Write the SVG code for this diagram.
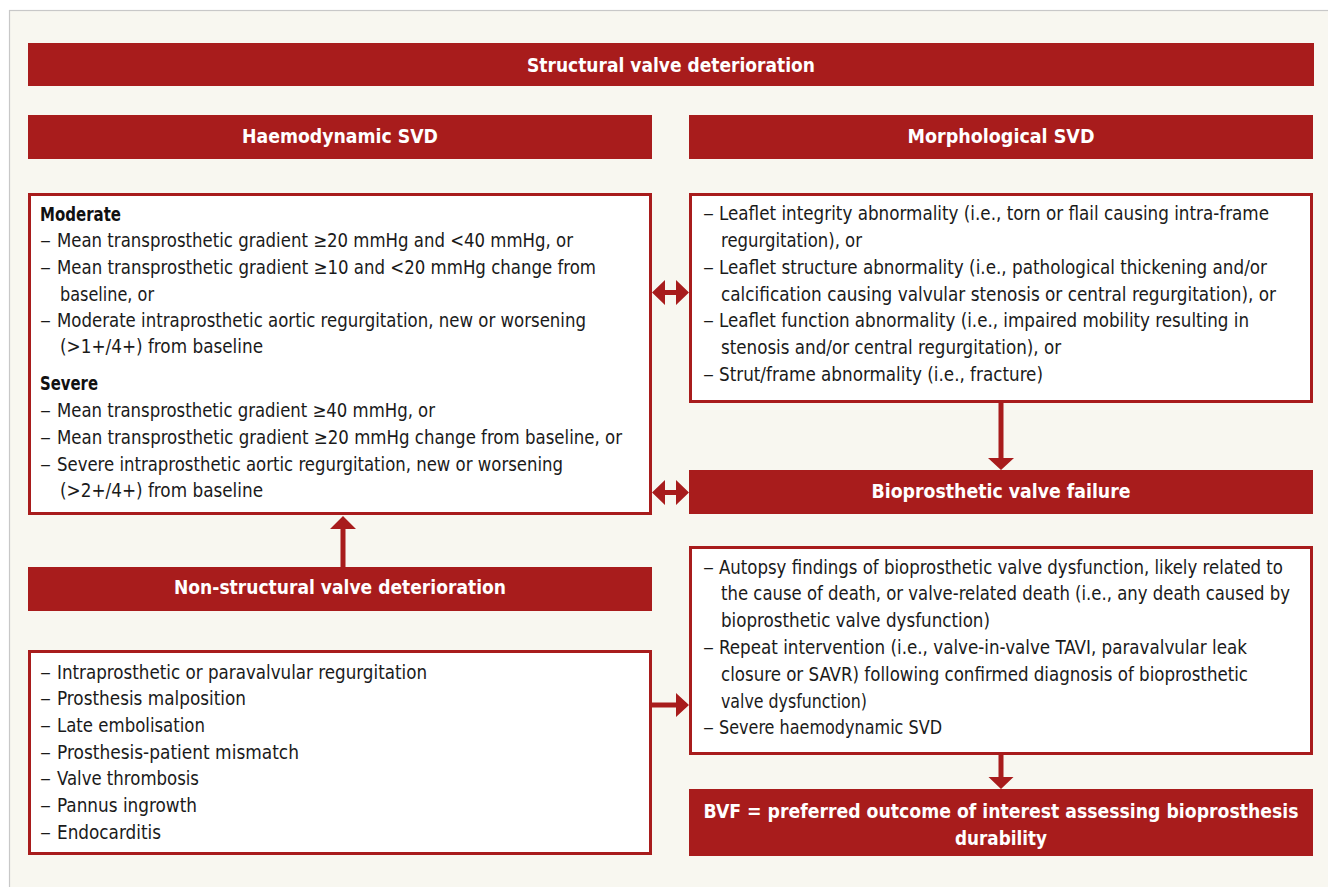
<svg xmlns="http://www.w3.org/2000/svg" width="1328" height="887" viewBox="0 0 1328 887">
<defs>
<style>
.bg{fill:#F8F7F0;stroke:#C8C8C8;stroke-width:1.2}
.ban{fill:#A81C1C}
.box{fill:#FFFFFF;stroke:#A81C1C;stroke-width:3}
.bt{font-family:"Liberation Sans Narrow","DejaVu Sans Condensed","Liberation Sans",sans-serif;font-size:20px;font-weight:bold;fill:#FFFFFF;text-anchor:middle}
.t{font-family:"Liberation Sans Narrow","DejaVu Sans Condensed","Liberation Sans",sans-serif;font-size:19px;fill:#1A1A1A}
.h{font-family:"Liberation Sans Narrow","DejaVu Sans Condensed","Liberation Sans",sans-serif;font-size:19px;font-weight:bold;fill:#111111}
.arr{fill:#A81C1C}
</style>
</defs>
<rect x="0" y="0" width="1328" height="887" fill="#FFFFFF"/>
<rect class="bg" x="9.5" y="10.5" width="1330" height="890"/>

<g id="svd-banner">
<rect class="ban" x="28" y="43" width="1286" height="43"/>
<text class="bt" x="671" y="72" textLength="288" lengthAdjust="spacingAndGlyphs">Structural valve deterioration</text>
</g>

<g id="haemo-banner">
<rect class="ban" x="28" y="115" width="624" height="44"/>
<text class="bt" x="340" y="143" textLength="196" lengthAdjust="spacingAndGlyphs">Haemodynamic SVD</text>
</g>

<g id="morph-banner">
<rect class="ban" x="689" y="115" width="624" height="44"/>
<text class="bt" x="1001" y="143" textLength="187" lengthAdjust="spacingAndGlyphs">Morphological SVD</text>
</g>

<g id="haemo-box">
<rect class="box" x="29.5" y="194.5" width="621" height="319"/>
<text class="h" x="40" y="221" textLength="81" lengthAdjust="spacingAndGlyphs">Moderate</text>
<text class="t" x="40" y="247" textLength="11" lengthAdjust="spacingAndGlyphs">–</text>
<text class="t" x="57" y="247" textLength="516" lengthAdjust="spacingAndGlyphs">Mean transprosthetic gradient ≥20 mmHg and &lt;40 mmHg, or</text>
<text class="t" x="40" y="274" textLength="11" lengthAdjust="spacingAndGlyphs">–</text>
<text class="t" x="57" y="274" textLength="539" lengthAdjust="spacingAndGlyphs">Mean transprosthetic gradient ≥10 and &lt;20 mmHg change from</text>
<text class="t" x="60" y="301" textLength="94" lengthAdjust="spacingAndGlyphs">baseline, or</text>
<text class="t" x="40" y="327" textLength="11" lengthAdjust="spacingAndGlyphs">–</text>
<text class="t" x="57" y="327" textLength="529" lengthAdjust="spacingAndGlyphs">Moderate intraprosthetic aortic regurgitation, new or worsening</text>
<text class="t" x="60" y="353" textLength="203" lengthAdjust="spacingAndGlyphs">(&gt;1+/4+) from baseline</text>
<text class="h" x="40" y="390" textLength="58" lengthAdjust="spacingAndGlyphs">Severe</text>
<text class="t" x="40" y="417" textLength="11" lengthAdjust="spacingAndGlyphs">–</text>
<text class="t" x="57" y="417" textLength="378" lengthAdjust="spacingAndGlyphs">Mean transprosthetic gradient ≥40 mmHg, or</text>
<text class="t" x="40" y="444" textLength="11" lengthAdjust="spacingAndGlyphs">–</text>
<text class="t" x="57" y="444" textLength="565" lengthAdjust="spacingAndGlyphs">Mean transprosthetic gradient ≥20 mmHg change from baseline, or</text>
<text class="t" x="40" y="471" textLength="11" lengthAdjust="spacingAndGlyphs">–</text>
<text class="t" x="57" y="471" textLength="506" lengthAdjust="spacingAndGlyphs">Severe intraprosthetic aortic regurgitation, new or worsening</text>
<text class="t" x="60" y="497" textLength="203" lengthAdjust="spacingAndGlyphs">(&gt;2+/4+) from baseline</text>
</g>

<g id="morph-box">
<rect class="box" x="690.5" y="194.5" width="621" height="207"/>
<text class="t" x="703" y="220" textLength="11" lengthAdjust="spacingAndGlyphs">–</text>
<text class="t" x="719" y="220" textLength="550" lengthAdjust="spacingAndGlyphs">Leaflet integrity abnormality (i.e., torn or flail causing intra-frame</text>
<text class="t" x="721" y="247" textLength="141" lengthAdjust="spacingAndGlyphs">regurgitation), or</text>
<text class="t" x="703" y="274" textLength="11" lengthAdjust="spacingAndGlyphs">–</text>
<text class="t" x="719" y="274" textLength="548" lengthAdjust="spacingAndGlyphs">Leaflet structure abnormality (i.e., pathological thickening and/or</text>
<text class="t" x="721" y="301" textLength="555" lengthAdjust="spacingAndGlyphs">calcification causing valvular stenosis or central regurgitation), or</text>
<text class="t" x="703" y="327" textLength="11" lengthAdjust="spacingAndGlyphs">–</text>
<text class="t" x="719" y="327" textLength="530" lengthAdjust="spacingAndGlyphs">Leaflet function abnormality (i.e., impaired mobility resulting in</text>
<text class="t" x="721" y="354" textLength="340" lengthAdjust="spacingAndGlyphs">stenosis and/or central regurgitation), or</text>
<text class="t" x="703" y="381" textLength="11" lengthAdjust="spacingAndGlyphs">–</text>
<text class="t" x="719" y="381" textLength="324" lengthAdjust="spacingAndGlyphs">Strut/frame abnormality (i.e., fracture)</text>
</g>

<g id="bvf-banner">
<rect class="ban" x="689" y="470" width="624" height="44"/>
<text class="bt" x="1001" y="498" textLength="259" lengthAdjust="spacingAndGlyphs">Bioprosthetic valve failure</text>
</g>

<g id="nsvd-banner">
<rect class="ban" x="28" y="567" width="624" height="44"/>
<text class="bt" x="340" y="594" textLength="332" lengthAdjust="spacingAndGlyphs">Non-structural valve deterioration</text>
</g>

<g id="bvf-box">
<rect class="box" x="690.5" y="547.5" width="621" height="206"/>
<text class="t" x="703" y="574" textLength="11" lengthAdjust="spacingAndGlyphs">–</text>
<text class="t" x="719" y="574" textLength="564" lengthAdjust="spacingAndGlyphs">Autopsy findings of bioprosthetic valve dysfunction, likely related to</text>
<text class="t" x="721" y="600" textLength="569" lengthAdjust="spacingAndGlyphs">the cause of death, or valve-related death (i.e., any death caused by</text>
<text class="t" x="721" y="627" textLength="269" lengthAdjust="spacingAndGlyphs">bioprosthetic valve dysfunction)</text>
<text class="t" x="703" y="654" textLength="11" lengthAdjust="spacingAndGlyphs">–</text>
<text class="t" x="719" y="654" textLength="528" lengthAdjust="spacingAndGlyphs">Repeat intervention (i.e., valve-in-valve TAVI, paravalvular leak</text>
<text class="t" x="721" y="681" textLength="527" lengthAdjust="spacingAndGlyphs">closure or SAVR) following confirmed diagnosis of bioprosthetic</text>
<text class="t" x="721" y="708" textLength="146" lengthAdjust="spacingAndGlyphs">valve dysfunction)</text>
<text class="t" x="703" y="734" textLength="11" lengthAdjust="spacingAndGlyphs">–</text>
<text class="t" x="719" y="734" textLength="223" lengthAdjust="spacingAndGlyphs">Severe haemodynamic SVD</text>
</g>

<g id="nsvd-box">
<rect class="box" x="29.5" y="651.5" width="621" height="202"/>
<text class="t" x="40" y="679" textLength="11" lengthAdjust="spacingAndGlyphs">–</text>
<text class="t" x="57" y="679" textLength="370" lengthAdjust="spacingAndGlyphs">Intraprosthetic or paravalvular regurgitation</text>
<text class="t" x="40" y="705" textLength="11" lengthAdjust="spacingAndGlyphs">–</text>
<text class="t" x="57" y="705" textLength="189" lengthAdjust="spacingAndGlyphs">Prosthesis malposition</text>
<text class="t" x="40" y="732" textLength="11" lengthAdjust="spacingAndGlyphs">–</text>
<text class="t" x="57" y="732" textLength="148" lengthAdjust="spacingAndGlyphs">Late embolisation</text>
<text class="t" x="40" y="759" textLength="11" lengthAdjust="spacingAndGlyphs">–</text>
<text class="t" x="57" y="759" textLength="242" lengthAdjust="spacingAndGlyphs">Prosthesis-patient mismatch</text>
<text class="t" x="40" y="785" textLength="11" lengthAdjust="spacingAndGlyphs">–</text>
<text class="t" x="57" y="785" textLength="142" lengthAdjust="spacingAndGlyphs">Valve thrombosis</text>
<text class="t" x="40" y="812" textLength="11" lengthAdjust="spacingAndGlyphs">–</text>
<text class="t" x="57" y="812" textLength="140" lengthAdjust="spacingAndGlyphs">Pannus ingrowth</text>
<text class="t" x="40" y="839" textLength="11" lengthAdjust="spacingAndGlyphs">–</text>
<text class="t" x="57" y="839" textLength="104" lengthAdjust="spacingAndGlyphs">Endocarditis</text>
</g>

<g id="outcome-banner">
<rect class="ban" x="689" y="789" width="624" height="67"/>
<text class="bt" x="1001" y="818" textLength="595" lengthAdjust="spacingAndGlyphs">BVF = preferred outcome of interest assessing bioprosthesis</text>
<text class="bt" x="1001" y="845" textLength="92" lengthAdjust="spacingAndGlyphs">durability</text>
</g>

<g id="connectors">
<polygon class="arr" points="652,292.5 665,280 665,290 676,290 676,280 689,292.5 676,305 676,295 665,295 665,305"/>
<polygon class="arr" points="652,492.5 665,480 665,490 676,490 676,480 689,492.5 676,505 676,495 665,495 665,505"/>
<polygon class="arr" points="998.5,403 1003.5,403 1003.5,458 1014,458 1001,470 988,458 998.5,458"/>
<polygon class="arr" points="340.5,567 345.5,567 345.5,529 356,529 343,516 330,529 340.5,529"/>
<polygon class="arr" points="652,702.5 676,702.5 676,693 689,705 676,717 676,707.5 652,707.5"/>
<polygon class="arr" points="998.5,755 1003.5,755 1003.5,777 1013.5,777 1001,789 988.5,777 998.5,777"/>
</g>
</svg>
